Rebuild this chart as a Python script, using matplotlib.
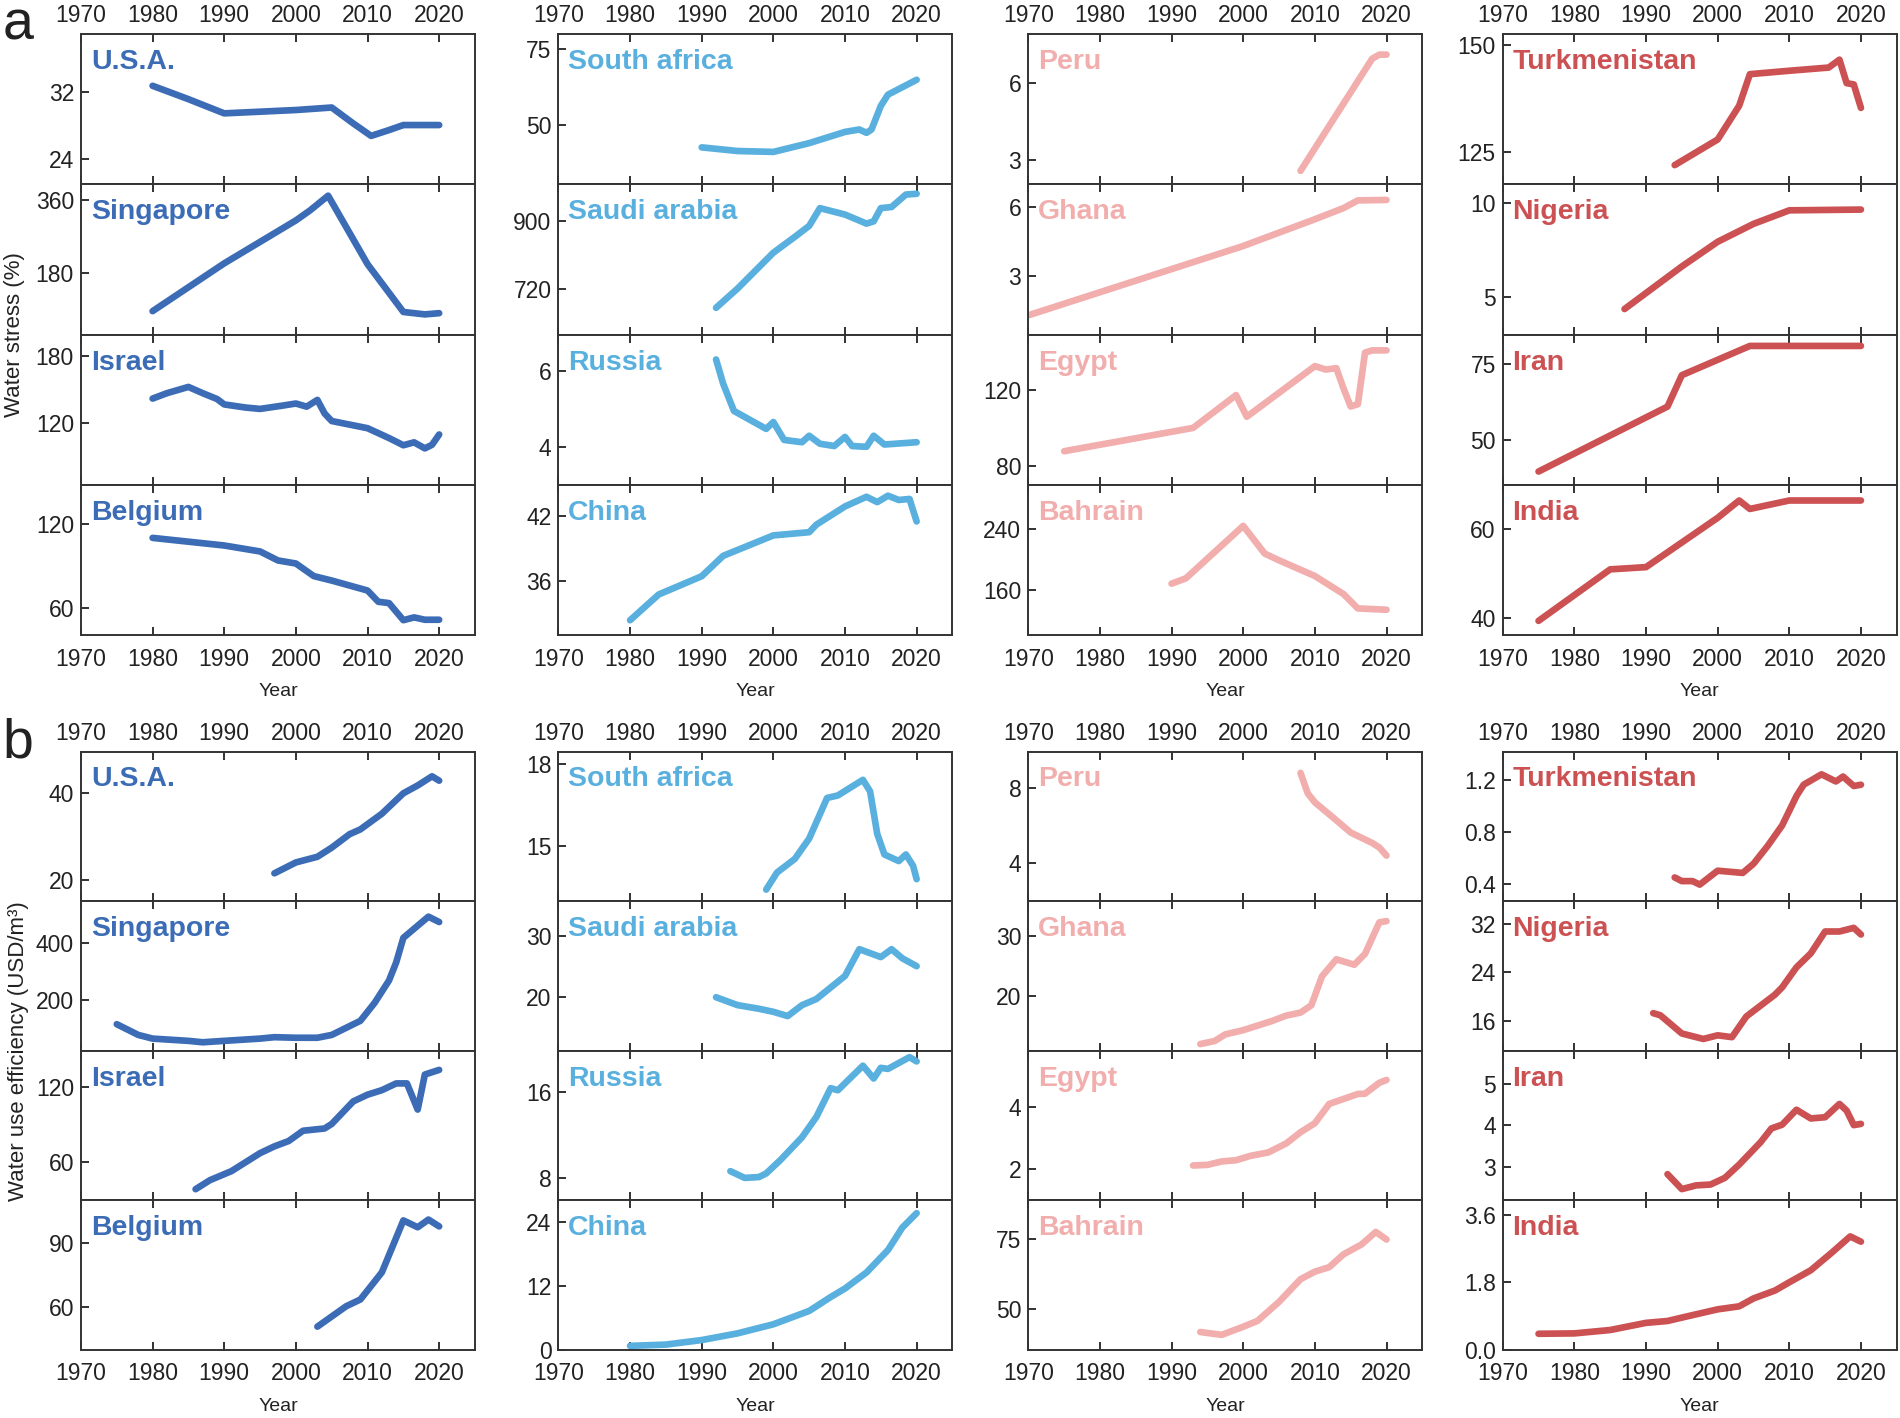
import matplotlib
matplotlib.use("Agg")
import matplotlib.pyplot as plt

plt.rcParams['font.family'] = ['Liberation Sans', 'DejaVu Sans']

# -----------------------------------------------------------------------------
# colores por columna y eje x comun
# -----------------------------------------------------------------------------
COL_COLORS = ["#3b6cb5", "#59b0de", "#f2adad", "#cc5153"]
XTICKS = [1970, 1980, 1990, 2000, 2010, 2020]

# -----------------------------------------------------------------------------
# a) Water stress (%)
# -----------------------------------------------------------------------------
usa_a_yr = [1980, 1985, 1990, 1995, 2000, 2005, 2008, 2010.5, 2013, 2015, 2020]
usa_a = [32.8, 31.2, 29.5, 29.7, 29.9, 30.2, 28.3, 26.8, 27.5, 28.1, 28.1]

sgp_a_yr = [1980, 1990, 2000, 2002, 2004.5, 2010, 2015, 2018, 2020]
sgp_a = [86, 204, 310, 335, 371, 202, 84, 78, 81]

isr_a_yr = [1980, 1982, 1985, 1987, 1989, 1990, 1993, 1995, 1998, 2000, 2001.5,
            2003, 2004, 2005, 2010, 2013, 2015, 2016.5, 2018, 2019, 2020]
isr_a = [142, 146.8, 152.4, 146.8, 141.6, 136.8, 134, 132.8, 135.6, 137.6, 134.8,
         140.8, 128.8, 122, 115.6, 106.8, 100.4, 103, 97.6, 100.8, 110]

bel_a_yr = [1980, 1990, 1995, 1997.5, 2000, 2002.5, 2005, 2010, 2011.5, 2013,
            2015, 2016.5, 2018, 2020]
bel_a = [110.3, 104.8, 100.5, 94, 91.8, 82.7, 79.5, 72.3, 64.2, 63.2,
         50.9, 52.9, 51.2, 51.2]

zaf_a_yr = [1990, 1995, 2000, 2005, 2010, 2012, 2013, 2013.7, 2015, 2016, 2020]
zaf_a = [42.5, 41.3, 41.0, 43.9, 47.6, 48.4, 47.3, 48.4, 56.2, 59.9, 64.8]

sau_a_yr = [1992, 1995, 2000, 2003, 2005, 2006.5, 2010, 2013, 2014, 2015,
            2016.5, 2018.5, 2020]
sau_a = [671, 722, 817, 859, 888, 935, 918, 894, 900, 935, 938, 971, 973]

rus_a_yr = [1992, 1993, 1994.5, 1999, 2000, 2001.5, 2004, 2005, 2006.5, 2008.5,
            2010, 2011, 2013, 2014, 2015.5, 2020]
rus_a = [6.29, 5.65, 4.94, 4.47, 4.65, 4.18, 4.12, 4.29, 4.08, 4.02,
         4.26, 4.02, 4.0, 4.29, 4.06, 4.12]

chn_a_yr = [1980, 1984, 1990, 1993, 2000, 2005, 2006, 2010, 2013, 2014.5,
            2016, 2017.5, 2019, 2020]
chn_a = [32.3, 34.7, 36.4, 38.3, 40.2, 40.5, 41.2, 42.9, 43.8, 43.3,
         43.9, 43.5, 43.6, 41.5]

per_a_yr = [2008, 2016, 2018, 2019, 2020]
per_a = [2.56, 6.09, 6.97, 7.13, 7.13]

gha_a_yr = [1970, 2000, 2010, 2014, 2016, 2020]
gha_a = [1.33, 4.31, 5.46, 5.94, 6.27, 6.29]

egy_a_yr = [1975, 1993, 1999, 2000.5, 2010, 2011.5, 2013, 2014, 2015, 2016,
            2017, 2018, 2020]
egy_a = [87.6, 99.9, 117.2, 105.8, 132.5, 130.7, 131.4, 120.7, 111.2, 112.4,
         139.6, 140.8, 140.8]

bhr_a_yr = [1990, 1992, 2000, 2003, 2005, 2010, 2014, 2016, 2020]
bhr_a = [167.7, 174.8, 244, 207.4, 198.5, 177.8, 154, 135, 133.3]

tkm_a_yr = [1994, 2000, 2003, 2004.5, 2010, 2015.5, 2017, 2018, 2019, 2020]
tkm_a = [121.9, 127.9, 135.8, 143.2, 144, 144.75, 146.6, 141.1, 140.8, 135.3]

nga_a_yr = [1987, 1995, 2000, 2005, 2010, 2020]
nga_a = [4.36, 6.62, 7.93, 8.88, 9.6, 9.64]

irn_a_yr = [1975, 1993, 1995, 2004.5, 2020]
irn_a = [39.7, 61, 71.3, 80.9, 80.9]

ind_a_yr = [1975, 1985, 1990, 2000, 2003, 2004.5, 2010, 2020]
ind_a = [39.3, 50.9, 51.4, 62.5, 66.4, 64.5, 66.4, 66.4]

# -----------------------------------------------------------------------------
# b) Water use efficiency (USD/m3)
# -----------------------------------------------------------------------------
usa_b_yr = [1997, 2000, 2003, 2005, 2007.5, 2009, 2012, 2015, 2017, 2019, 2020]
usa_b = [21.6, 24.1, 25.4, 27.5, 30.6, 31.7, 35.3, 40, 41.8, 43.9, 42.9]

sgp_b_yr = [1975, 1978, 1980, 1985, 1987, 1990, 1995, 1997, 2000, 2003, 2005,
            2009, 2011, 2013, 2014, 2015, 2017, 2018.5, 2020]
sgp_b = [113, 75, 62, 54, 49, 54, 62, 67, 65, 65, 75,
         125, 189, 268, 332, 419, 462, 494, 475]

isr_b_yr = [1986, 1988, 1991, 1993, 1995, 1997, 1999, 2001, 2004, 2005, 2008,
            2010, 2012, 2014, 2015.5, 2017, 2018, 2020]
isr_b = [38.4, 45.6, 52.8, 60, 67.2, 72.6, 76.9, 85.1, 86.9, 90.5, 108.5,
         113.9, 117.5, 122.9, 122.9, 102, 130, 133.7]

bel_b_yr = [2003, 2007, 2009, 2012, 2015, 2017, 2018.5, 2020]
bel_b = [50.9, 60.4, 63.6, 76.3, 100.6, 97.4, 101, 97.8]

zaf_b_yr = [1999, 2000.5, 2003, 2005, 2007.5, 2009, 2012.5, 2013.5, 2014.5,
            2015.5, 2017.5, 2018.5, 2019.5, 2020]
zaf_b = [13.42, 14.04, 14.54, 15.28, 16.76, 16.85, 17.42, 17.0, 15.45,
         14.7, 14.46, 14.7, 14.29, 13.8]

sau_b_yr = [1992, 1995, 1998, 2000, 2002, 2004, 2006, 2008, 2010, 2012, 2015,
            2016.5, 2018, 2020]
sau_b = [19.9, 18.6, 18.0, 17.5, 16.8, 18.6, 19.6, 21.5, 23.4, 27.8, 26.5,
         27.8, 26.3, 25.0]

rus_b_yr = [1994, 1996, 1998, 1999, 2001, 2004, 2006, 2008, 2009, 2012.5,
            2014, 2015, 2016, 2019, 2020]
rus_b = [8.63, 8.0, 8.08, 8.42, 9.68, 11.8, 13.7, 16.4, 16.2, 18.5,
         17.3, 18.3, 18.2, 19.3, 18.9]

chn_b_yr = [1980, 1985, 1990, 1995, 2000, 2005, 2008, 2010, 2013, 2016, 2018, 2020]
chn_b = [0.76, 1.0, 1.85, 3.1, 4.8, 7.3, 9.9, 11.5, 14.5, 18.7, 22.9, 25.6]

per_b_yr = [2008, 2009, 2010, 2013, 2015, 2018, 2019, 2020]
per_b = [8.79, 7.71, 7.23, 6.28, 5.63, 5.08, 4.84, 4.41]

gha_b_yr = [1994, 1996, 1997.5, 2000, 2004, 2006, 2008, 2009.5, 2011, 2013,
            2015.5, 2017, 2019, 2020]
gha_b = [12.1, 12.6, 13.7, 14.4, 15.9, 16.8, 17.3, 18.5, 23.3, 26.1,
         25.2, 27.0, 32.2, 32.4]

egy_b_yr = [1993, 1995, 1997, 1999, 2001, 2003.5, 2006, 2008, 2010, 2012,
            2016, 2017, 2019, 2020]
egy_b = [2.12, 2.14, 2.25, 2.29, 2.43, 2.54, 2.83, 3.19, 3.48, 4.1,
         4.42, 4.43, 4.78, 4.87]

bhr_b_yr = [1994, 1997, 2000, 2002, 2005, 2008, 2010, 2012, 2014, 2016.5,
            2018.5, 2020]
bhr_b = [41.6, 40.6, 43.5, 45.6, 52.4, 60.5, 63.2, 64.8, 69.4, 72.9, 77.4, 74.7]

tkm_b_yr = [1994, 1995, 1996.5, 1997.5, 2000, 2003.5, 2005, 2007, 2009, 2011,
            2012, 2014.5, 2016.5, 2017.5, 2019, 2020]
tkm_b = [0.452, 0.424, 0.424, 0.397, 0.504, 0.487, 0.557, 0.696, 0.852, 1.078,
         1.165, 1.245, 1.19, 1.228, 1.155, 1.165]

nga_b_yr = [1991, 1992, 1995, 1998, 2000, 2002, 2004, 2008, 2009, 2011, 2013,
            2015, 2017, 2019, 2020]
nga_b = [17.25, 16.9, 13.9, 13.0, 13.6, 13.3, 16.7, 20.3, 21.5, 24.8, 27.1,
         30.7, 30.7, 31.3, 30.2]

irn_b_yr = [1993, 1995, 1997, 1999, 2001, 2003, 2006, 2007.5, 2009, 2011, 2013,
            2015, 2017, 2018, 2019, 2020]
irn_b = [2.82, 2.46, 2.55, 2.57, 2.73, 3.05, 3.59, 3.92, 4.01, 4.37, 4.16,
         4.19, 4.51, 4.35, 4.0, 4.03]

ind_b_yr = [1975, 1980, 1985, 1990, 1993, 1995, 2000, 2003, 2005, 2008, 2010,
            2013, 2016, 2018.5, 2020]
ind_b = [0.43, 0.44, 0.53, 0.72, 0.77, 0.86, 1.08, 1.16, 1.37, 1.58, 1.8,
         2.12, 2.6, 3.02, 2.88]

# -----------------------------------------------------------------------------
# paneles: (nombre, años, valores, ylim, yticks, etiquetas)
# -----------------------------------------------------------------------------
panels_a = [
    [("U.S.A.", usa_a_yr, usa_a, (21, 39), [24, 32], ["24", "32"]),
     ("Singapore", sgp_a_yr, sgp_a, (28, 399), [180, 360], ["180", "360"]),
     ("Israel", isr_a_yr, isr_a, (65, 199), [120, 180], ["120", "180"]),
     ("Belgium", bel_a_yr, bel_a, (40, 148.5), [60, 120], ["60", "120"])],
    [("South africa", zaf_a_yr, zaf_a, (30.3, 79.9), [50, 75], ["50", "75"]),
     ("Saudi arabia", sau_a_yr, sau_a, (600, 998), [720, 900], ["720", "900"]),
     ("Russia", rus_a_yr, rus_a, (3.0, 6.94), [4, 6], ["4", "6"]),
     ("China", chn_a_yr, chn_a, (30.9, 44.9), [36, 42], ["36", "42"])],
    [("Peru", per_a_yr, per_a, (2.03, 7.94), [3, 6], ["3", "6"]),
     ("Ghana", gha_a_yr, gha_a, (0.5, 6.96), [3, 6], ["3", "6"]),
     ("Egypt", egy_a_yr, egy_a, (69.8, 149.1), [80, 120], ["80", "120"]),
     ("Bahrain", bhr_a_yr, bhr_a, (99.6, 298), [160, 240], ["160", "240"])],
    [("Turkmenistan", tkm_a_yr, tkm_a, (117.4, 152.6), [125, 150], ["125", "150"]),
     ("Nigeria", nga_a_yr, nga_a, (3.0, 10.98), [5, 10], ["5", "10"]),
     ("Iran", irn_a_yr, irn_a, (35.3, 84.6), [50, 75], ["50", "75"]),
     ("India", ind_a_yr, ind_a, (36.06, 69.9), [40, 60], ["40", "60"])],
]

panels_b = [
    [("U.S.A.", usa_b_yr, usa_b, (15.2, 49.6), [20, 40], ["20", "40"]),
     ("Singapore", sgp_b_yr, sgp_b, (19, 549), [200, 400], ["200", "400"]),
     ("Israel", isr_b_yr, isr_b, (29.5, 149), [60, 120], ["60", "120"]),
     ("Belgium", bel_b_yr, bel_b, (40, 110), [60, 90], ["60", "90"])],
    [("South africa", zaf_b_yr, zaf_b, (13.0, 18.45), [15, 18], ["15", "18"]),
     ("Saudi arabia", sau_b_yr, sau_b, (11.1, 35.7), [20, 30], ["20", "30"]),
     ("Russia", rus_b_yr, rus_b, (5.9, 19.9), [8, 16], ["8", "16"]),
     ("China", chn_b_yr, chn_b, (0, 28), [0, 12, 24], ["0", "12", "24"])],
    [("Peru", per_b_yr, per_b, (2.0, 9.92), [4, 8], ["4", "8"]),
     ("Ghana", gha_b_yr, gha_b, (11.0, 35.7), [20, 30], ["20", "30"]),
     ("Egypt", egy_b_yr, egy_b, (1.0, 5.81), [2, 4], ["2", "4"]),
     ("Bahrain", bhr_b_yr, bhr_b, (35.2, 88.7), [50, 75], ["50", "75"])],
    [("Turkmenistan", tkm_b_yr, tkm_b, (0.27, 1.42), [0.4, 0.8, 1.2], ["0.4", "0.8", "1.2"]),
     ("Nigeria", nga_b_yr, nga_b, (11.06, 35.7), [16, 24, 32], ["16", "24", "32"]),
     ("Iran", irn_b_yr, irn_b, (2.19, 5.79), [3, 4, 5], ["3", "4", "5"]),
     ("India", ind_b_yr, ind_b, (0, 3.98), [0, 1.8, 3.6], ["0.0", "1.8", "3.6"])],
]

# -----------------------------------------------------------------------------
# figura
# -----------------------------------------------------------------------------
fig = plt.figure(figsize=(19, 14.18), dpi=100)

COL_LEFT = [0.0426, 0.2939, 0.5412, 0.7909]
COL_W = 0.2074
TICK_FS = 16.5


def draw_section(panels, top, bottom, letter, ylabel, ylabel_x, year_y):
    row_h = (top - bottom) / 4
    for c, col in enumerate(panels):
        for r, (name, yrs, vals, ylim, yt, ytl) in enumerate(col):
            ax = fig.add_axes([COL_LEFT[c], top - (r + 1) * row_h, COL_W, row_h])
            ax.plot(yrs, vals, color=COL_COLORS[c], lw=4.8,
                    solid_capstyle="round", solid_joinstyle="round")
            ax.set_xlim(1970, 2025)
            ax.set_ylim(*ylim)
            ax.set_xticks(XTICKS)
            ax.set_xticklabels([str(x) for x in XTICKS])
            ax.set_yticks(yt)
            ax.set_yticklabels(ytl)
            ax.tick_params(axis="both", direction="in", length=6, width=1.3,
                           labelsize=TICK_FS, colors="#222222", pad=5)
            ax.tick_params(axis="x", top=True, bottom=True,
                           labeltop=(r == 0), labelbottom=(r == 3))
            if r == 3:
                ax.tick_params(axis="x", which="major", pad=9)
            for s in ax.spines.values():
                s.set_linewidth(1.4)
                s.set_color("#333333")
            ax.text(0.025, 0.90, name, transform=ax.transAxes, ha="left", va="top",
                    fontsize=20.5, fontweight="bold", color=COL_COLORS[c])
        fig.text(COL_LEFT[c] + COL_W / 2, year_y, "Year", ha="center", va="center",
                 fontsize=14, color="#222222")
    fig.text(0.0096, top + 0.006, letter, ha="center", va="center", fontsize=40,
             color="#222222")
    fig.text(ylabel_x, (top + bottom) / 2, ylabel, rotation=90, ha="center",
             va="center", fontsize=16, color="#222222")


draw_section(panels_a, 0.976, 0.552, "a", "Water stress (%)", 0.0075, 0.512)
draw_section(panels_b, 0.470, 0.048, "b", "Water use efficiency (USD/m³)", 0.0095, 0.008)

plt.savefig("out.png", dpi=100)
plt.close()
